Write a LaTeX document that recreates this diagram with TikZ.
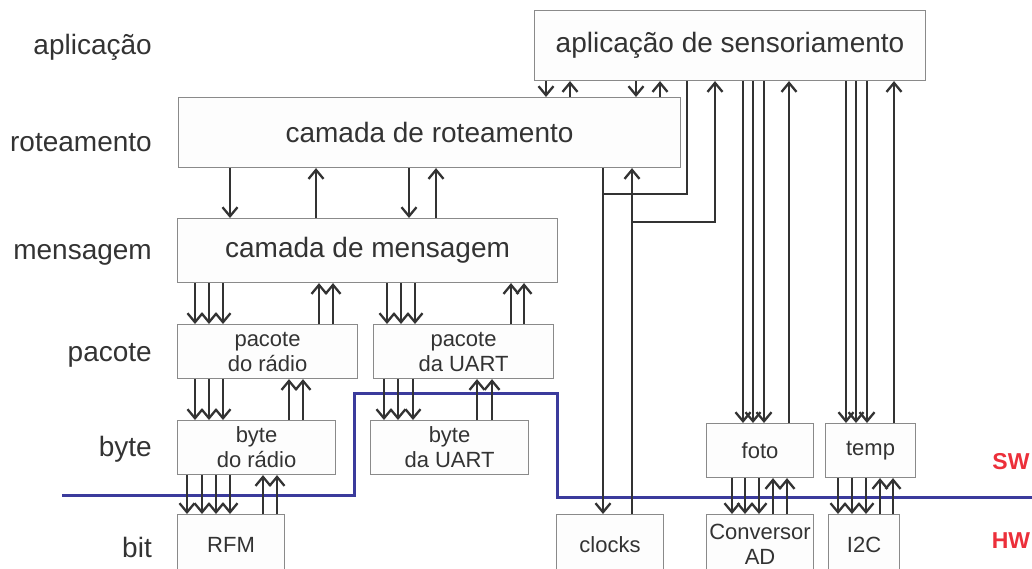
\documentclass[tikz,border=0pt]{standalone}
\usepackage{fontspec}
\setmainfont{Liberation Sans}
\usetikzlibrary{arrows.meta,calc}
\definecolor{cLine}{HTML}{333333}
\definecolor{cBox} {HTML}{8a8a8a}
\definecolor{cFill}{HTML}{fdfdfd}
\definecolor{cSep} {HTML}{3b3b9c}
\definecolor{cRed} {HTML}{ec2f3a}

\begin{document}
\begin{tikzpicture}[
    x=1pt,y=-1pt,
    box/.style={draw=cBox,fill=cFill,line width=1.1pt,anchor=north west,
                inner sep=0pt,align=center,text=cLine},
    big/.style={font=\fontsize{28}{32}\selectfont},
    small/.style={font=\fontsize{22}{25}\selectfont},
    lay/.style={big,anchor=east,text=cLine,inner sep=0pt},
    arr/.style={-{Straight Barb[length=9pt,width=15pt]},line width=2.3pt,cLine},
    ln/.style={line width=2.3pt,cLine},
    sep/.style={line width=3pt,cSep},
    tag/.style={font=\fontsize{23}{25}\selectfont\bfseries,cRed},
  ]
  \clip (0,0) rectangle (1032,568);

  % ---------- LAYER NAMES ----------
  \node[lay] (lapl) at (152,47)  {aplicação};
  \node[lay] (lrot) at (152,143) {roteamento};
  \node[lay] (lmsg) at (152,255) {mensagem};
  \node[lay] (lpac) at (152,355) {pacote};
  \node[lay] (lbyt) at (152,449) {byte};
  \node[lay] (lbit) at (152,547) {bit};

  % ---------- BOXES ----------
  \node[box,big,minimum width=391pt,minimum height=70pt] (apl) at (534,10) {aplicação de sensoriamento};
  \node[box,big,minimum width=502pt,minimum height=70pt] (rot) at (178,97) {camada de roteamento};
  \node[box,big,minimum width=380pt,minimum height=64pt] (msg) at (177,218) {camada de mensagem};

  \node[box,small,minimum width=180pt,minimum height=54pt] (prad)  at (177,324) {pacote\\do rádio};
  \node[box,small,minimum width=180pt,minimum height=54pt] (puart) at (373,324) {pacote\\da UART};
  \node[box,small,minimum width=158pt,minimum height=54pt] (brad)  at (177,420) {byte\\do rádio};
  \node[box,small,minimum width=158pt,minimum height=54pt] (buart) at (370,420) {byte\\da UART};
  \node[box,small,minimum width=107pt,minimum height=54pt] (foto)  at (706,423) {foto};
  \node[box,small,minimum width=90pt, minimum height=54pt] (temp)  at (825,423) {temp};

  \node[box,small,minimum width=107pt,minimum height=60pt] (rfm) at (177,514) {RFM};
  \node[box,small,minimum width=107pt,minimum height=60pt] (clk) at (556,514) {clocks};
  \node[box,small,minimum width=107pt,minimum height=60pt] (adc) at (706,514) {Conversor\\AD};
  \node[box,small,minimum width=71pt, minimum height=60pt] (i2c) at (828,514) {I2C};

  % ---------- SW / HW BORDER ----------
  \draw[sep] (62,495) -- (354,495) -- (354,393) -- (557,393) -- (557,497) -- (1032,497);
  \node[tag] (sw) at (1011,462) {SW};
  \node[tag] (hw) at (1011,541) {HW};

  % ---------- APLICACAO <-> ROTEAMENTO ----------
  \foreach \dx in {12,102}
    \draw[arr] ([xshift=\dx]apl.south west) -- ([xshift=\dx]apl.south west |- rot.north);
  \foreach \dx in {36,126}
    \draw[arr] ([xshift=\dx]apl.south west |- rot.north) -- ([xshift=\dx]apl.south west);

  % ---------- ROTEAMENTO <-> MENSAGEM ----------
  \foreach \dx in {52,231}
    \draw[arr] ([xshift=\dx]rot.south west) -- ([xshift=\dx]rot.south west |- msg.north);
  \foreach \dx in {138,258}
    \draw[arr] ([xshift=\dx]rot.south west |- msg.north) -- ([xshift=\dx]rot.south west);

  % ---------- MENSAGEM <-> PACOTE ----------
  \foreach \dx in {18,32,46}
    \draw[arr] ([xshift=\dx]prad.north west |- msg.south) -- ([xshift=\dx]prad.north west);
  \foreach \dx in {142,156}
    \draw[arr] ([xshift=\dx]prad.north west) -- ([xshift=\dx]prad.north west |- msg.south);
  \foreach \dx in {14,28,42}
    \draw[arr] ([xshift=\dx]puart.north west |- msg.south) -- ([xshift=\dx]puart.north west);
  \foreach \dx in {138,151}
    \draw[arr] ([xshift=\dx]puart.north west) -- ([xshift=\dx]puart.north west |- msg.south);

  % ---------- PACOTE <-> BYTE ----------
  \foreach \dx in {18,32,46}
    \draw[arr] ([xshift=\dx]brad.north west |- prad.south) -- ([xshift=\dx]brad.north west);
  \foreach \dx in {112,126}
    \draw[arr] ([xshift=\dx]brad.north west) -- ([xshift=\dx]brad.north west |- prad.south);
  \foreach \dx in {14,28,43}
    \draw[arr] ([xshift=\dx]buart.north west |- puart.south) -- ([xshift=\dx]buart.north west);
  \foreach \dx in {107,122}
    \draw[arr] ([xshift=\dx]buart.north west) -- ([xshift=\dx]buart.north west |- puart.south);

  % ---------- BYTE <-> BIT ----------
  \foreach \dx in {10,25,39,53}
    \draw[arr] ([xshift=\dx]rfm.north west |- brad.south) -- ([xshift=\dx]rfm.north west);
  \foreach \dx in {86,100}
    \draw[arr] ([xshift=\dx]rfm.north west) -- ([xshift=\dx]rfm.north west |- brad.south);

  % ---------- SENSORS ----------
  \foreach \dx in {37,47,58}
    \draw[arr] ([xshift=\dx]foto.north west |- apl.south) -- ([xshift=\dx]foto.north west);
  \draw[arr] ([xshift=83]foto.north west) -- ([xshift=83]foto.north west |- apl.south);
  \foreach \dx in {21,31,42}
    \draw[arr] ([xshift=\dx]temp.north west |- apl.south) -- ([xshift=\dx]temp.north west);
  \draw[arr] ([xshift=69]temp.north west) -- ([xshift=69]temp.north west |- apl.south);

  \foreach \dx in {26,39,53}
    \draw[arr] ([xshift=\dx]adc.north west |- foto.south) -- ([xshift=\dx]adc.north west);
  \foreach \dx in {67,81}
    \draw[arr] ([xshift=\dx]adc.north west) -- ([xshift=\dx]adc.north west |- foto.south);
  \foreach \dx in {10,24,38}
    \draw[arr] ([xshift=\dx]i2c.north west |- temp.south) -- ([xshift=\dx]i2c.north west);
  \foreach \dx in {52,65}
    \draw[arr] ([xshift=\dx]i2c.north west) -- ([xshift=\dx]i2c.north west |- temp.south);

  % ---------- CLOCKS ----------
  \coordinate (ckd) at ([xshift=47]clk.north west);
  \coordinate (cku) at ([xshift=76]clk.north west);
  \draw[arr] (ckd |- rot.south) -- (ckd);
  \draw[ln] ([xshift=153]apl.south west) |- ($(ckd |- rot.south)+(0,26)$);
  \draw[arr] (cku) -- (cku |- rot.south);
  \draw[arr] ($(cku |- rot.south)+(0,54)$) -| ([xshift=181]apl.south west);

\end{tikzpicture}
\end{document}
